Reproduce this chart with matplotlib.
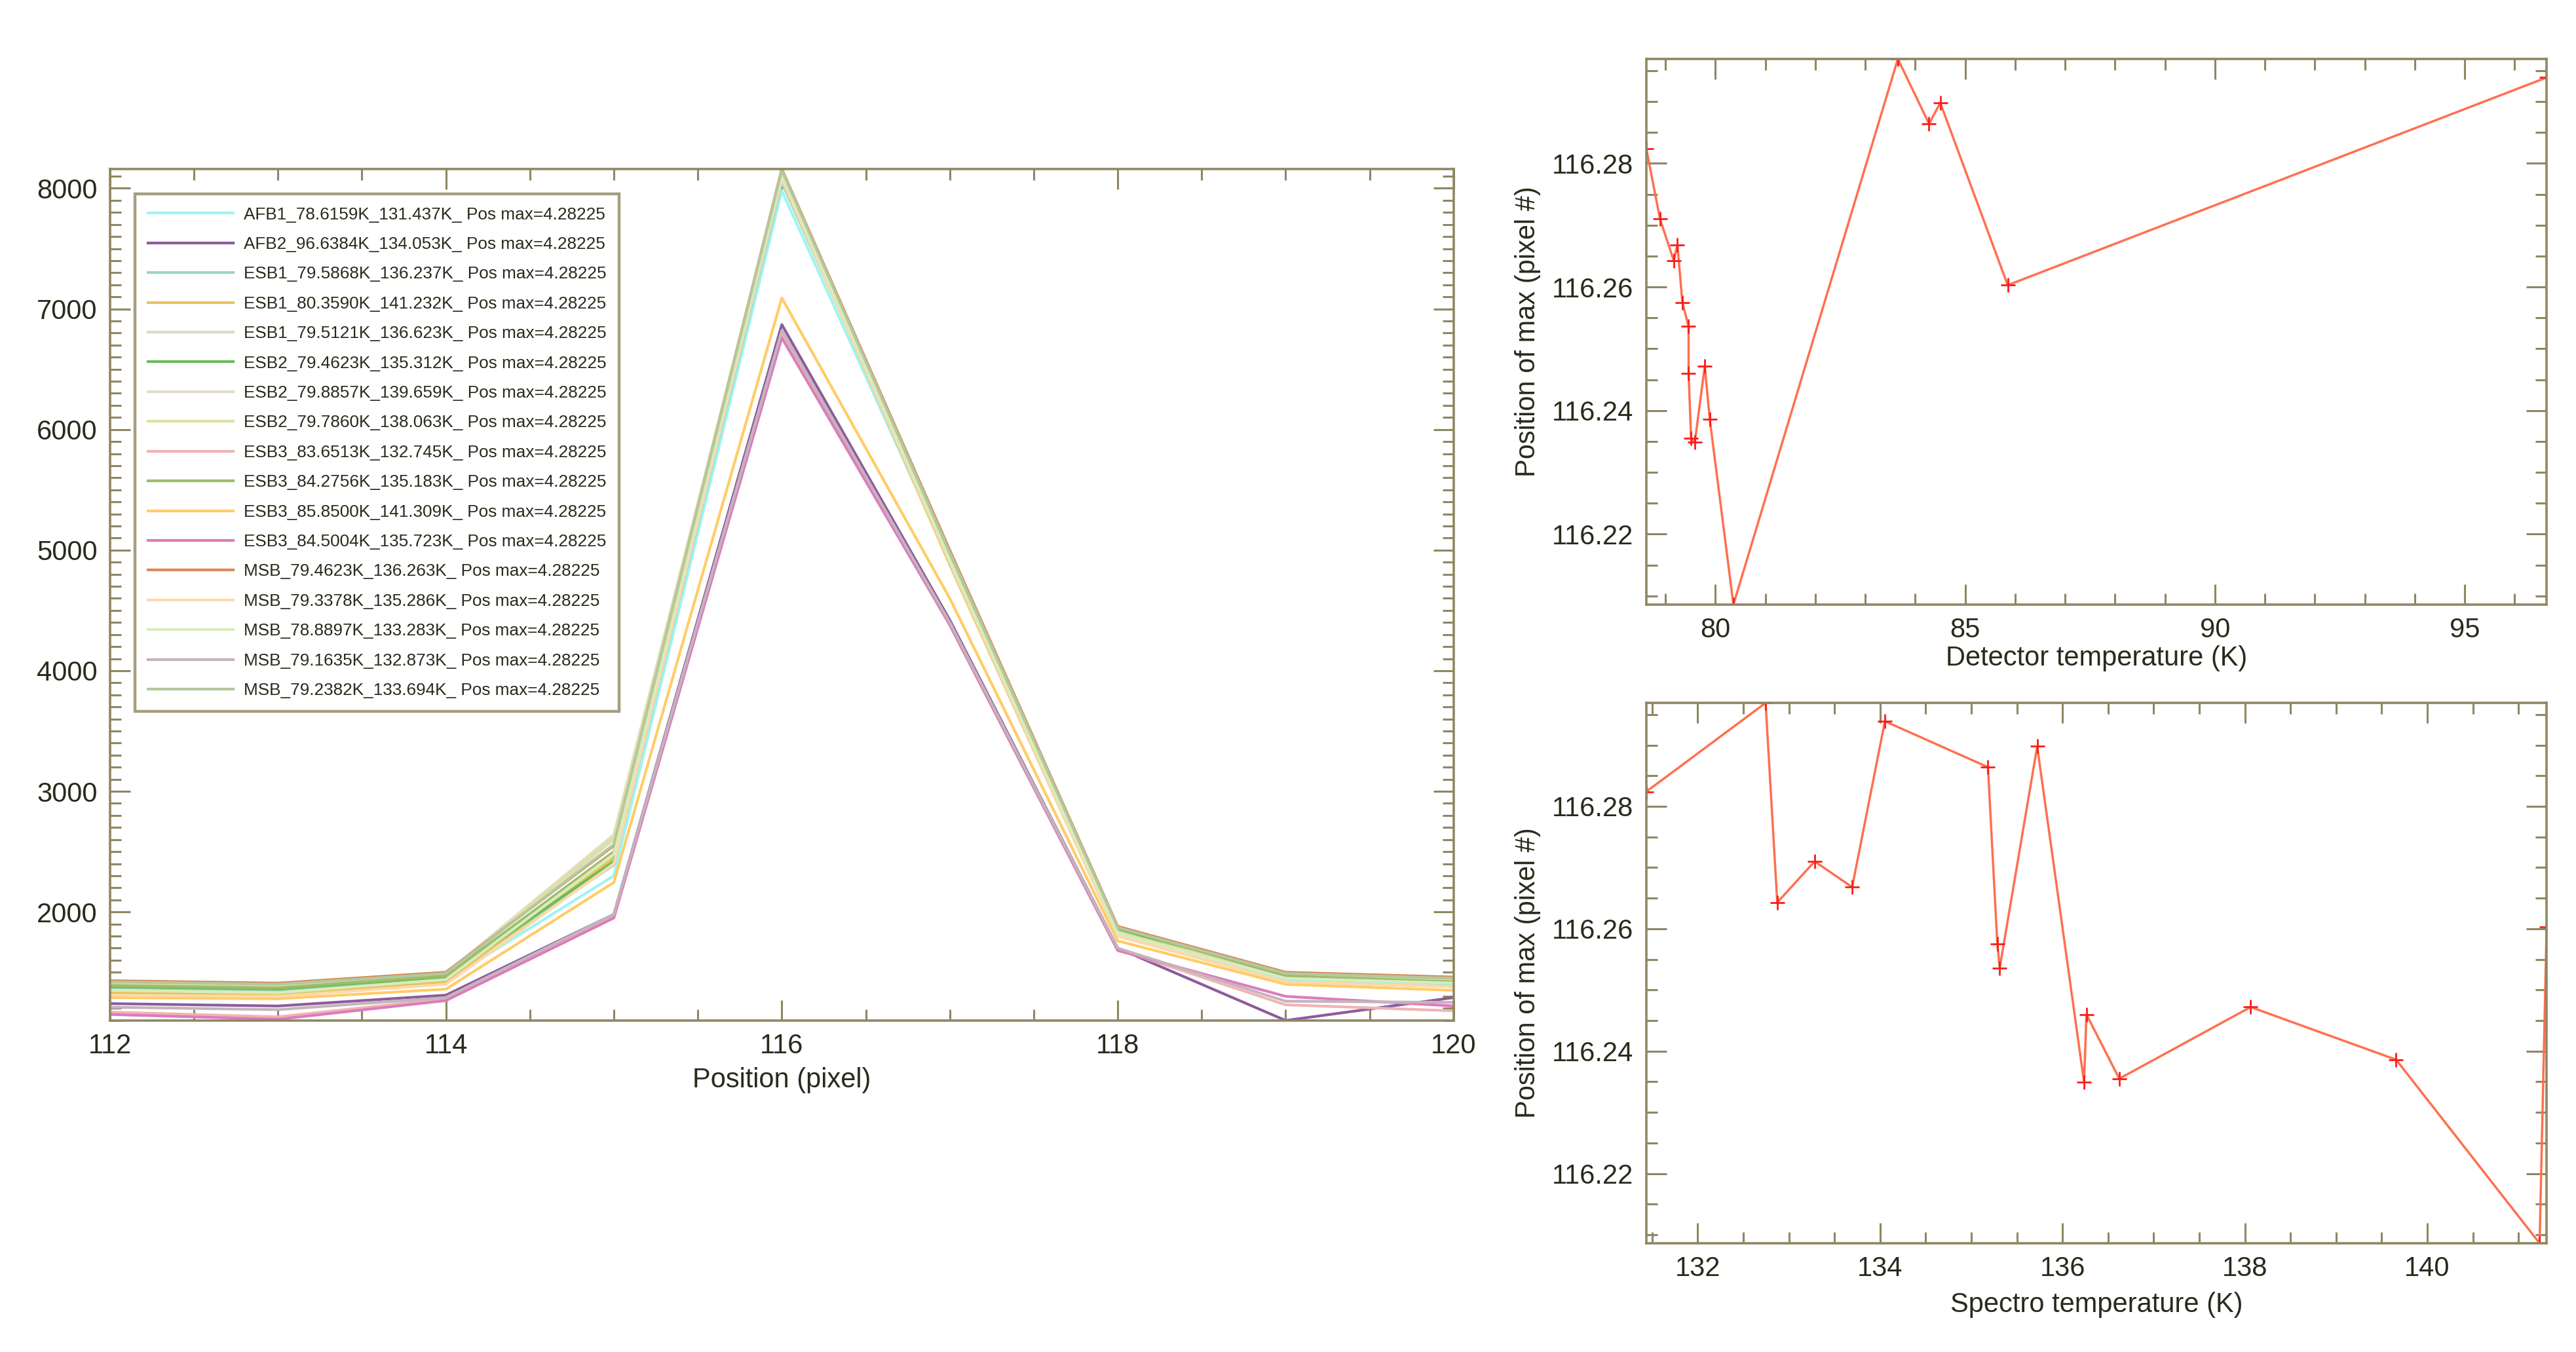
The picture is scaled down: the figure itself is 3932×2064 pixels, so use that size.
import numpy as np
import matplotlib
matplotlib.use("Agg")
import matplotlib.pyplot as plt
from matplotlib.ticker import MultipleLocator

plt.rcParams['font.family'] = ['Liberation Sans', 'DejaVu Sans']

frame_col = '#8e8762'
text_col = '#2a2a1c'

# --- data ---
pixels = [112, 113, 114, 115, 116, 117, 118, 119, 120]

names = ['AFB1', 'AFB2', 'ESB1', 'ESB1', 'ESB1', 'ESB2', 'ESB2', 'ESB2',
         'ESB3', 'ESB3', 'ESB3', 'ESB3', 'MSB', 'MSB', 'MSB', 'MSB', 'MSB']
det_temp = [78.6159, 96.6384, 79.5868, 80.3590, 79.5121, 79.4623, 79.8857, 79.7860,
            83.6513, 84.2756, 85.8500, 84.5004, 79.4623, 79.3378, 78.8897, 79.1635, 79.2382]
spec_temp = [131.437, 134.053, 136.237, 141.232, 136.623, 135.312, 139.659, 138.063,
             132.745, 135.183, 141.309, 135.723, 136.263, 135.286, 133.283, 132.873, 133.694]
pos_max = [116.2824, 116.2939, 116.2349, 116.2086, 116.2355, 116.2536, 116.2386, 116.2472,
           116.2969, 116.2864, 116.2603, 116.2898, 116.2460, 116.2575, 116.2710, 116.2643, 116.2668]

colors = ['#9ef4f4', '#8c5c9c', '#9cd8bc', '#e6c45c', '#dcdcc2', '#6cbc5c', '#e2ddc8', '#dfe0a0',
          '#f0b4b4', '#9ebc6c', '#ffcc66', '#dc7cbc', '#d88a5c', '#ffd8ac', '#d8ecbc', '#c4b4bc', '#b4c89c']

spectra = [
    [1360, 1340, 1430, 2300, 7980, 4900, 1830, 1440, 1400],
    [1240, 1220, 1310, 1980, 6870, 4420, 1700, 1100, 1290],
    [1370, 1350, 1450, 2390, 8050, 4950, 1860, 1460, 1420],
    [1330, 1310, 1420, 2450, 8090, 4880, 1800, 1420, 1380],
    [1400, 1380, 1480, 2600, 8150, 4950, 1850, 1480, 1440],
    [1380, 1360, 1460, 2420, 8100, 4950, 1860, 1460, 1410],
    [1410, 1390, 1490, 2640, 8140, 4900, 1820, 1470, 1450],
    [1400, 1380, 1480, 2620, 8130, 4920, 1830, 1470, 1440],
    [1170, 1130, 1280, 1960, 6800, 4380, 1690, 1230, 1180],
    [1390, 1370, 1470, 2500, 8120, 4960, 1870, 1470, 1420],
    [1290, 1280, 1360, 2245, 7090, 4600, 1760, 1400, 1350],
    [1150, 1110, 1265, 1950, 6760, 4380, 1680, 1300, 1220],
    [1430, 1410, 1500, 2550, 8160, 5000, 1880, 1500, 1460],
    [1310, 1300, 1400, 2400, 8080, 4900, 1800, 1420, 1380],
    [1350, 1330, 1440, 2480, 8110, 4920, 1820, 1450, 1410],
    [1210, 1190, 1290, 1980, 6820, 4400, 1700, 1260, 1250],
    [1420, 1400, 1490, 2560, 8150, 4980, 1870, 1490, 1450],
]

labels = [f"{n}_{d:.4f}K_{s:.3f}K_ Pos max=4.28225" for n, d, s in zip(names, det_temp, spec_temp)]


def style_axes(ax, xmaj, xmin, ymaj, ymin):
    for sp in ax.spines.values():
        sp.set_color(frame_col)
        sp.set_linewidth(1.3)
    ax.xaxis.set_major_locator(MultipleLocator(xmaj))
    ax.xaxis.set_minor_locator(MultipleLocator(xmin))
    ax.yaxis.set_major_locator(MultipleLocator(ymaj))
    ax.yaxis.set_minor_locator(MultipleLocator(ymin))
    ax.tick_params(which='both', direction='in', top=True, right=True, color=frame_col,
                   labelcolor=text_col, labelsize=15, pad=7)
    ax.tick_params(which='major', length=11, width=1.1)
    ax.tick_params(which='minor', length=6, width=1.1)


fig = plt.figure(figsize=(19.66, 10.32), dpi=200)

# left: spectra
ax = fig.add_axes([0.0427, 0.2452, 0.5216, 0.6298])
for sp_vals, c, lab in zip(spectra, colors, labels):
    ax.plot(pixels, sp_vals, color=c, lw=1.5, label=lab)
allv = np.array(spectra)
ax.set_xlim(pixels[0], pixels[-1])
ax.set_ylim(allv.min(), allv.max())
style_axes(ax, 2, 0.5, 1000, 100)
ax.set_xlabel('Position (pixel)', fontsize=15, color=text_col)
ax.xaxis.set_label_coords(0.5, -0.055)
leg = ax.legend(loc='upper left', bbox_to_anchor=(0.0524, 0.8566), bbox_transform=fig.transFigure,
                borderaxespad=0, fontsize=9.4, handlelength=5.0, handletextpad=0.6,
                labelspacing=0.82, fancybox=False, borderpad=0.75)
leg.get_frame().set_edgecolor(frame_col)
leg.get_frame().set_linewidth(1.6)
for t in leg.get_texts():
    t.set_color(text_col)

# right top: position vs detector temperature
order = np.argsort(det_temp, kind='stable')
dx = np.array(det_temp)[order]
py = np.array(pos_max)[order]
ax1 = fig.add_axes([0.6391, 0.5528, 0.3495, 0.4036])
ax1.plot(dx, py, color='#ff6f4f', lw=1.25)
ax1.plot(dx, py, ls='none', marker='+', ms=8, mew=1.0, color='#ff1a1a')
ax1.set_xlim(dx.min(), dx.max())
ax1.set_ylim(py.min(), py.max())
style_axes(ax1, 5, 1, 0.02, 0.005)
ax1.yaxis.set_major_formatter(matplotlib.ticker.FormatStrFormatter('%.2f'))
ax1.set_xlabel('Detector temperature (K)', fontsize=15, color=text_col)
ax1.xaxis.set_label_coords(0.5, -0.075)
ax1.set_ylabel('Position of max (pixel #)', fontsize=15, color=text_col)
ax1.yaxis.set_label_coords(-0.117, 0.5)

# right bottom: position vs spectro temperature
order = np.argsort(spec_temp, kind='stable')
sx = np.array(spec_temp)[order]
py2 = np.array(pos_max)[order]
ax2 = fig.add_axes([0.6391, 0.0804, 0.3495, 0.3997])
ax2.plot(sx, py2, color='#ff6f4f', lw=1.25)
ax2.plot(sx, py2, ls='none', marker='+', ms=8, mew=1.0, color='#ff1a1a')
ax2.set_xlim(sx.min(), sx.max())
ax2.set_ylim(py2.min(), py2.max())
style_axes(ax2, 2, 0.5, 0.02, 0.005)
ax2.yaxis.set_major_formatter(matplotlib.ticker.FormatStrFormatter('%.2f'))
ax2.set_xlabel('Spectro temperature (K)', fontsize=15, color=text_col)
ax2.xaxis.set_label_coords(0.5, -0.09)
ax2.set_ylabel('Position of max (pixel #)', fontsize=15, color=text_col)
ax2.yaxis.set_label_coords(-0.117, 0.5)

fig.savefig('out.png', dpi=200)
